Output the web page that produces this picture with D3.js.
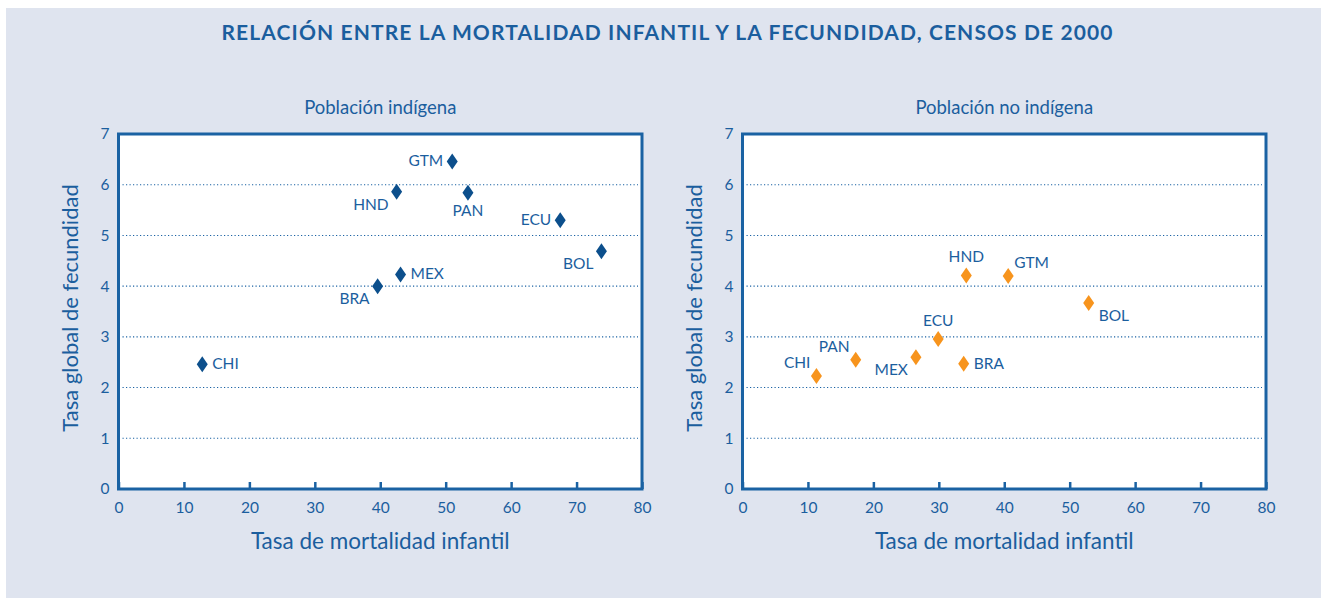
<!DOCTYPE html>
<html>
<head>
<meta charset="utf-8">
<script src="https://cdn.jsdelivr.net/npm/d3@7"></script>
<style>
body { margin: 0; background: #fff; }
svg text { font-family: Lato, "Open Sans", sans-serif; fill: #1b5e9e; }
</style>
</head>
<body>
<div id="chart"></div>
<script>
var countries = ["GTM", "HND", "PAN", "ECU", "BOL", "MEX", "BRA", "CHI"]
var indigMort = [51.0, 42.5, 53.4, 67.5, 73.8, 43.1, 39.6, 12.8]
var indigFec = [6.46, 5.86, 5.84, 5.30, 4.69, 4.23, 4.00, 2.46]
var noIndigMort = [40.6, 34.2, 17.3, 29.9, 52.9, 26.5, 33.8, 11.3]
var noIndigFec = [4.20, 4.21, 2.55, 2.96, 3.67, 2.60, 2.47, 2.23]
var xTicks = [0, 10, 20, 30, 40, 50, 60, 70, 80]
var yTicks = [0, 1, 2, 3, 4, 5, 6, 7]

// where each label sits relative to its diamond
var indigLabels = { GTM: "left", HND: "belowLeft", PAN: "below", ECU: "left", BOL: "belowLeft", MEX: "right", BRA: "belowLeft", CHI: "right" }
var noIndigLabels = { GTM: "aboveRight", HND: "above", PAN: "aboveLeft", ECU: "above", BOL: "belowRight", MEX: "belowLeft", BRA: "right", CHI: "aboveLeft" }

var blue = "#1b5e9e", axisBlue = "#1a62a3"

var svg = d3.select("#chart").append("svg").attr("width", 1327).attr("height", 604)
svg.append("rect").attr("x", 6).attr("y", 8).attr("width", 1315).attr("height", 590).attr("fill", "#dfe4ef")

svg.append("text").attr("x", 667).attr("y", 40).attr("text-anchor", "middle")
	.attr("font-size", 21).attr("font-weight", "bold")
	.attr("textLength", 891).attr("lengthAdjust", "spacing")
	.text("RELACIÓN ENTRE LA MORTALIDAD INFANTIL Y LA FECUNDIDAD, CENSOS DE 2000")

var offsets = {
	left: [-9, 5, "end"], right: [10, 5, "start"], above: [0, -13, "middle"], below: [0, 23, "middle"],
	belowLeft: [-8, 18, "end"], belowRight: [10, 18, "start"], aboveLeft: [-6, -8, "end"], aboveRight: [6, -8, "start"]
}

function panel(x0, title, mort, fec, labels, color) {
	var x = d3.scaleLinear().domain([0, 80]).range([x0, x0 + 523.5])
	var y = d3.scaleLinear().domain([0, 7]).range([489, 134])
	var g = svg.append("g")
	g.append("rect").attr("x", x(0)).attr("y", y(7)).attr("width", x(80) - x(0)).attr("height", y(0) - y(7)).attr("fill", "#fff")
	g.selectAll(".grid").data(yTicks.slice(1, 7)).enter().append("line")
		.attr("x1", x(0) + 4).attr("x2", x(80) - 4).attr("y1", y).attr("y2", y)
		.attr("stroke", axisBlue).attr("stroke-width", 1.1).attr("stroke-dasharray", "1.2,2.3")

	var xa = g.append("g").attr("transform", "translate(0," + y(0) + ")")
		.call(d3.axisBottom(x).tickValues(xTicks).tickSize(-7).tickPadding(13))
	xa.select(".domain").remove()
	xa.selectAll("line").attr("stroke", axisBlue).attr("stroke-width", 2.5)
	xa.selectAll("text").attr("font-size", 15.5).attr("fill", blue).attr("font-family", "Lato, sans-serif")

	var ya = g.append("g").attr("transform", "translate(" + (x(0) - 9) + ",0)")
		.call(d3.axisLeft(y).tickValues(yTicks).tickFormat(d3.format("d")).tickSize(0).tickPadding(0))
	ya.select(".domain").remove()
	ya.selectAll("text").attr("font-size", 15.5).attr("fill", blue).attr("font-family", "Lato, sans-serif")

	g.append("rect").attr("x", x(0)).attr("y", y(7)).attr("width", x(80) - x(0)).attr("height", y(0) - y(7))
		.attr("fill", "none").attr("stroke", axisBlue).attr("stroke-width", 3)

	var diamond = "M0,-8L5.5,0L0,8L-5.5,0Z"
	countries.forEach(function(c, i) {
		var px = x(mort[i]), py = y(fec[i]), o = offsets[labels[c]]
		g.append("path").attr("d", diamond).attr("transform", "translate(" + px + "," + py + ")").attr("fill", color)
		g.append("text").attr("x", px + o[0]).attr("y", py + o[1]).attr("text-anchor", o[2]).attr("font-size", 15.5).text(c)
	})

	var cx = (x(0) + x(80)) / 2
	svg.append("text").attr("x", cx).attr("y", 114).attr("text-anchor", "middle").attr("font-size", 18.5).text(title)
	svg.append("text").attr("x", cx).attr("y", 549).attr("text-anchor", "middle").attr("font-size", 22.5).text("Tasa de mortalidad infantil")
	svg.append("text").attr("transform", "translate(" + (x(0) - 41) + ",308) rotate(-90)").attr("text-anchor", "middle")
		.attr("font-size", 22).text("Tasa global de fecundidad")
}

panel(118.5, "Población indígena", indigMort, indigFec, indigLabels, "#0c4f8c")
panel(742.5, "Población no indígena", noIndigMort, noIndigFec, noIndigLabels, "#f7941d")
</script>
</body>
</html>
